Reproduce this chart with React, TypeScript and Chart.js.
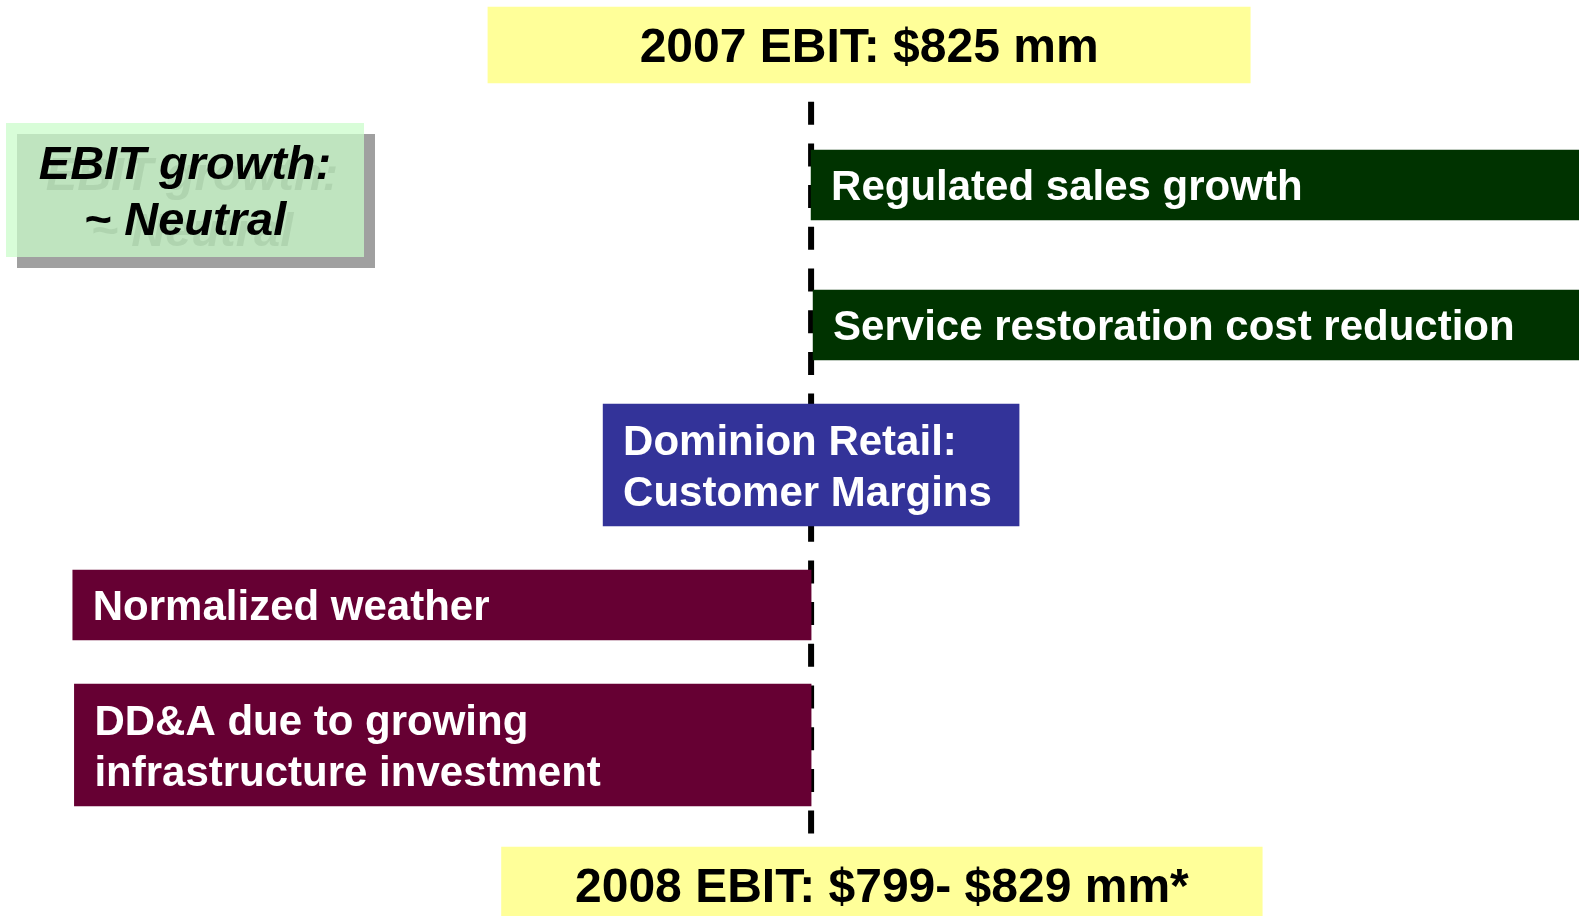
import React, { useEffect, useRef } from "react";
import { Chart, registerables } from "chart.js";

Chart.register(...registerables);

// ---- data ----
const rowKeys = ["start", "regulated", "service", "retail", "weather", "dda", "end"];
const rowText: string[][] = [
  ["2007 EBIT: $825 mm"],
  ["Regulated sales growth"],
  ["Service restoration cost reduction"],
  ["Dominion Retail:", "Customer Margins"],
  ["Normalized weather"],
  ["DD&A due to growing", "infrastructure investment"],
  ["2008 EBIT: $799- $829 mm*"],
];
const rowFrom = [-40.4, 0, 0.25, -26, -92.3, -92.1, -38.7];
const rowTo = [54.9, 96, 96, 26, 0, 0, 56.4];
const rowKind = ["total", "up", "up", "mixed", "down", "down", "total"];
const axisMin = -101.4;
const axisMax = 96;
const noteLines = ["EBIT growth:", "~ Neutral"];

// ---- styles ----
const FONT = '"Liberation Sans", Arial, Helvetica, sans-serif';
const kindStyle: Record<string, { fill: string; text: string; size: number; center: boolean }> = {
  total: { fill: "#FFFF99", text: "#000000", size: 48, center: true },
  up: { fill: "#003300", text: "#FFFFFF", size: 42, center: false },
  mixed: { fill: "#333399", text: "#FFFFFF", size: 42, center: false },
  down: { fill: "#660033", text: "#FFFFFF", size: 42, center: false },
};
const thicknessFor = (i: number) =>
  rowKind[i] === "total" ? 76 : rowText[i].length > 1 ? 122 : 70;

const centerLinePlugin = {
  id: "centerLine",
  beforeDatasetsDraw(chart: any) {
    const ctx = chart.ctx;
    const x = chart.scales.x.getPixelForValue(0);
    const n = rowKeys.length;
    const first = chart.getDatasetMeta(0).data[0];
    const last = chart.getDatasetMeta(n - 1).data[n - 1];
    if (!first || !last) return;
    const top = first.y + first.height / 2;
    const bottom = last.y - last.height / 2;
    ctx.save();
    ctx.strokeStyle = "#000000";
    ctx.lineWidth = 6;
    ctx.setLineDash([23, 18.7]);
    ctx.lineDashOffset = 23;
    ctx.beginPath();
    ctx.moveTo(x, top);
    ctx.lineTo(x, bottom);
    ctx.stroke();
    ctx.restore();
  },
};

const barTextPlugin = {
  id: "barText",
  afterDatasetsDraw(chart: any) {
    const ctx = chart.ctx;
    ctx.save();
    rowKeys.forEach((_k, i) => {
      const el = chart.getDatasetMeta(i).data[i];
      if (!el) return;
      const st = kindStyle[rowKind[i]];
      const left = Math.min(el.x, el.base);
      const right = Math.max(el.x, el.base);
      const lines = rowText[i];
      const lh = 51;
      const capHalf = st.size * 0.358;
      ctx.font = `bold ${st.size}px ${FONT}`;
      ctx.fillStyle = st.text;
      ctx.textBaseline = "alphabetic";
      ctx.textAlign = st.center ? "center" : "left";
      const tx = st.center ? (left + right) / 2 : left + 20;
      lines.forEach((line, j) => {
        const y = el.y + capHalf + (j - (lines.length - 1) / 2) * lh;
        ctx.fillText(line, tx, y);
      });
    });
    ctx.restore();
  },
};

export default function App() {
  const ref = useRef<HTMLCanvasElement | null>(null);

  useEffect(() => {
    document.body.style.margin = "0";
    const canvas = ref.current;
    if (!canvas) return;
    const datasets = rowKeys.map((key, i) => ({
      label: key,
      data: rowKeys.map((_r, j) => (j === i ? [rowFrom[i], rowTo[i]] : null)),
      backgroundColor: kindStyle[rowKind[i]].fill,
      borderWidth: 0,
      barThickness: thicknessFor(i),
      grouped: false,
      clip: false as any,
    }));
    const chart = new Chart(canvas, {
      type: "bar",
      data: { labels: rowKeys, datasets: datasets as any },
      options: {
        indexAxis: "y",
        animation: false,
        responsive: false,
        devicePixelRatio: 1,
        layout: { padding: { top: 45, bottom: 31, left: 0, right: 0 } },
        plugins: { legend: { display: false }, tooltip: { enabled: false } },
        scales: {
          x: { type: "linear", min: axisMin, max: axisMax, display: false },
          y: { type: "category", offset: false, display: false },
        },
      },
      plugins: [centerLinePlugin, barTextPlugin],
    });
    return () => chart.destroy();
  }, []);

  return (
    <div style={{ position: "fixed", left: 0, top: 0, width: 1579, height: 916, background: "#fff", overflow: "hidden" }}>
      <canvas ref={ref} width={1579} height={916} style={{ width: 1579, height: 916, display: "block" }} />
      <div style={{ position: "absolute", left: 17, top: 134, width: 358, height: 134, background: "#A0A0A0" }} />
      <div style={{ position: "absolute", left: 6, top: 123, width: 358, height: 134, background: "rgba(203,252,203,0.74)" }} />
      <div
        style={{
          position: "absolute",
          left: 6,
          top: 135,
          width: 358,
          textAlign: "center",
          font: `italic bold 47px/56px ${FONT}`,
          color: "#000",
          textShadow: "7px 11px 0 rgba(90,120,90,0.15)",
          whiteSpace: "nowrap",
        }}
      >
        {noteLines.map((t, i) => (
          <div key={i}>{t}</div>
        ))}
      </div>
    </div>
  );
}
